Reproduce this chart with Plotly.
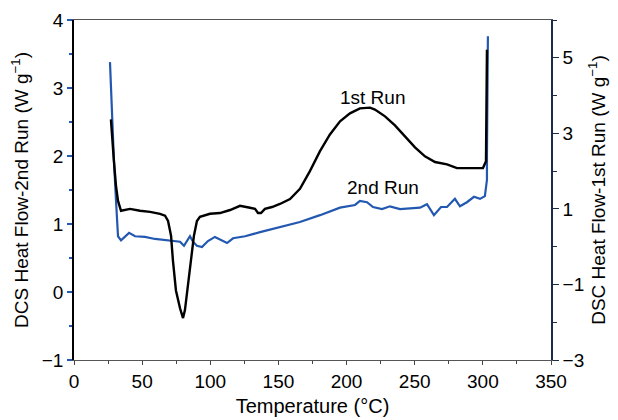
import plotly.graph_objects as go

# 1st Run (right axis)
t1 = [27.1, 27.9, 29.3, 30.8, 32.3, 34.5, 37.4, 41.1, 48.4, 55.8, 63.1, 66.8, 69.0, 71.2, 72.6, 74.8,
      77.8, 80.0, 81.4, 83.6, 85.8, 88.0, 90.2, 92.4, 99.8, 107.1, 114.5, 121.8, 129.1, 132.8, 135.0,
      137.2, 140.1, 145.3, 151.1, 158.5, 165.8, 173.1, 180.5, 187.8, 195.2, 202.5, 209.8, 217.2, 220.8,
      228.2, 235.5, 242.8, 250.2, 257.5, 264.9, 273.7, 281.0, 290.5, 300.1, 302.3, 303.0]
run1 = [3.37, 2.92, 2.26, 1.61, 1.21, 0.95, 0.97, 1.0, 0.95, 0.92, 0.87, 0.82, 0.68, 0.29, -0.37, -1.16,
        -1.63, -1.89, -1.68, -1.03, -0.37, 0.29, 0.68, 0.79, 0.87, 0.89, 0.97, 1.08, 1.03, 1.0, 0.89,
        0.89, 1.0, 1.05, 1.13, 1.26, 1.53, 2.0, 2.53, 2.97, 3.32, 3.53, 3.66, 3.68, 3.63,
        3.45, 3.21, 2.92, 2.63, 2.39, 2.24, 2.18, 2.08, 2.08, 2.08, 2.26, 5.21]

# 2nd Run (left axis)
t2 = [26.4, 27.1, 27.9, 29.3, 30.8, 31.5, 32.3, 34.5, 37.4, 40.4, 44.8, 52.1, 59.4, 66.8, 74.1, 77.8,
      80.7, 82.9, 85.1, 87.3, 90.2, 93.9, 98.3, 103.4, 107.8, 112.3, 116.7, 125.5, 136.5, 151.1, 165.8,
      180.5, 195.2, 206.2, 209.8, 215.0, 219.4, 226.0, 231.8, 239.2, 253.9, 259.0, 264.1, 269.3, 273.7,
      279.5, 283.2, 288.3, 293.5, 297.9, 301.5, 303.0, 303.0, 303.7]
run2 = [3.38, 2.97, 2.53, 1.94, 1.35, 1.01, 0.82, 0.76, 0.81, 0.87, 0.82, 0.81, 0.78, 0.76, 0.75, 0.74,
        0.68, 0.75, 0.82, 0.74, 0.68, 0.66, 0.75, 0.81, 0.76, 0.72, 0.79, 0.82, 0.88, 0.96, 1.03,
        1.13, 1.24, 1.28, 1.34, 1.32, 1.25, 1.22, 1.26, 1.22, 1.24, 1.29, 1.13, 1.25, 1.25,
        1.37, 1.26, 1.32, 1.40, 1.37, 1.41, 1.65, 2.01, 3.76]

BLUE = "#2358b0"
NAVY = "#1c2a4a"
FONT = "Liberation Sans, Arial, sans-serif"

fig = go.Figure()
fig.add_trace(go.Scatter(x=t2, y=run2, mode="lines", line=dict(color=BLUE, width=2.2),
                         name="2nd Run", yaxis="y"))
fig.add_trace(go.Scatter(x=t1, y=run1, mode="lines", line=dict(color="black", width=2.4),
                         name="1st Run", yaxis="y2"))

fig.add_annotation(x=219, y=3.95, yref="y2", text="1st Run", showarrow=False,
                   font=dict(size=19, color="black", family=FONT))
fig.add_annotation(x=227, y=1.54, yref="y", text="2nd Run", showarrow=False,
                   font=dict(size=19, color="black", family=FONT))

fig.update_layout(
    width=618, height=420,
    margin=dict(l=74, r=67, t=20, b=60),
    paper_bgcolor="white", plot_bgcolor="white",
    showlegend=False,
    font=dict(family=FONT, size=19, color="black"),
    xaxis=dict(range=[0, 350], tickvals=[0, 50, 100, 150, 200, 250, 300, 350],
               ticks="outside", ticklen=4, tickcolor="#444", showline=True, linecolor="#555",
               linewidth=1.2, mirror=True, showgrid=False, zeroline=False, automargin=False,
               minor=dict(dtick=25, ticks="outside", ticklen=3, tickcolor="#444"),
               title=dict(text="Temperature (°C)", standoff=8, font=dict(size=20)),
               tickfont=dict(size=19)),
    yaxis=dict(range=[-1, 4], tickvals=[-1, 0, 1, 2, 3, 4], ticktext=["−1", "0", "1", "2", "3", "4"],
               ticks="outside", ticklen=5, tickcolor=BLUE, tickwidth=1.5, automargin=False,
               showline=True, linecolor="black", linewidth=1.5, showgrid=False, zeroline=False,
               minor=dict(dtick=0.5, ticks="outside", ticklen=3, tickcolor=BLUE, tickwidth=1.5),
               title=dict(text="DCS Heat Flow-2nd Run (W g<sup>−1</sup>)", standoff=8, font=dict(size=19)),
               tickfont=dict(size=19)),
    yaxis2=dict(range=[-3, 6], overlaying="y", side="right", automargin=False,
                tickvals=[-3, -1, 1, 3, 5], ticktext=["−3", "−1", "1", "3", "5"],
                ticks="outside", ticklen=6, tickcolor=NAVY, tickwidth=1.2,
                showline=True, linecolor=NAVY, linewidth=1.5, showgrid=False, zeroline=False,
                minor=dict(dtick=1, ticks="outside", ticklen=4, tickcolor=NAVY),
                title=dict(text="DSC Heat Flow-1st Run (W g<sup>−1</sup>)", standoff=8, font=dict(size=19)),
                tickfont=dict(size=19)),
)

fig.write_html("out.html")
